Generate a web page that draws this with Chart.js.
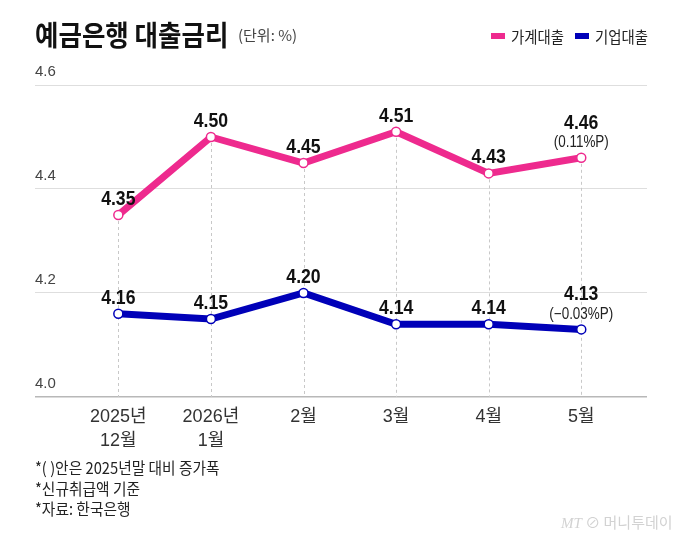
<!DOCTYPE html>
<html>
<head>
<meta charset="utf-8">
<script src="https://cdn.jsdelivr.net/npm/chart.js@4.4.1/dist/chart.umd.min.js"></script>
<style>
  html, body { margin: 0; padding: 0; background: #fff; }
  #wrap { position: relative; width: 680px; height: 535px; overflow: hidden; font-family: 'Noto Sans CJK KR', sans-serif; }
  canvas { position: absolute; left: 0; top: 0; }
  .abs { position: absolute; white-space: nowrap; transform-origin: left center; }
  #title { left: 35px; top: 19px; font-size: 28px; line-height: 30px; font-weight: 700; color: #111; transform: scaleX(0.91); }
  #unit { left: 238px; top: 25px; font-size: 15px; line-height: 20px; color: #444; }
  .leg { top: 26px; font-size: 16px; line-height: 20px; color: #222; transform: scaleX(0.9); }
  .sw { position: absolute; width: 14px; height: 6px; top: 33px; }
  .note { left: 35px; font-size: 16px; line-height: 20px; color: #222; transform: scaleX(0.92); }
  #wm { left: 561px; top: 512px; font-size: 15px; line-height: 20px; color: #d2d2d2; }
</style>
</head>
<body>
<div id="wrap">
  <canvas id="c" width="680" height="535"></canvas>
  <div class="abs" id="title">예금은행 대출금리</div>
  <div class="abs" id="unit">(단위: %)</div>
  <div class="sw" style="left:491px;background:#ee2a8e;"></div>
  <div class="abs leg" style="left:511px;">가계대출</div>
  <div class="sw" style="left:575px;background:#0000b8;"></div>
  <div class="abs leg" style="left:595px;">기업대출</div>
  <div class="abs note" style="top:457px;">*( )안은 2025년말 대비 증가폭</div>
  <div class="abs note" style="top:478px;">*신규취급액 기준</div>
  <div class="abs note" style="top:498px;">*자료: 한국은행</div>
  <div class="abs" id="wm"><i style="font-family:'Liberation Serif';">MT</i> ⊘ 머니투데이</div>
</div>
<script>
const categories = [['2025년', '12월'], ['2026년', '1월'], '2월', '3월', '4월', '5월'];
const householdLoans = [4.35, 4.50, 4.45, 4.51, 4.43, 4.46];
const corporateLoans = [4.16, 4.15, 4.20, 4.14, 4.14, 4.13];
const lastChange = ['(0.11%P)', '(\u22120.03%P)'];
const yTicks = [4.0, 4.2, 4.4, 4.6];

const PINK = '#ee2a8e';
const BLUE = '#0000b8';
const SANS = "'Liberation Sans', Arial, 'Noto Sans CJK KR', sans-serif";

const toPoints = arr => arr.map((v, i) => ({ x: i, y: v }));

const dropLines = {
  id: 'dropLines',
  beforeDatasetsDraw(chart) {
    const { ctx, scales: { x, y }, chartArea } = chart;
    ctx.save();
    ctx.strokeStyle = '#c8c8c8';
    ctx.lineWidth = 1;
    ctx.setLineDash([3, 3]);
    householdLoans.forEach((v, i) => {
      const px = Math.round(x.getPixelForValue(i)) + 0.5;
      const top = y.getPixelForValue(Math.max(v, corporateLoans[i]));
      ctx.beginPath();
      ctx.moveTo(px, top);
      ctx.lineTo(px, chartArea.bottom);
      ctx.stroke();
    });
    ctx.restore();
  }
};

function narrowText(ctx, text, x, y, sx) {
  ctx.save();
  ctx.translate(x, y);
  ctx.scale(sx, 1);
  ctx.fillText(text, 0, 0);
  ctx.restore();
}

const valueLabels = {
  id: 'valueLabels',
  afterDatasetsDraw(chart) {
    const { ctx } = chart;
    ctx.save();
    ctx.textAlign = 'center';
    ctx.textBaseline = 'middle';
    chart.data.datasets.forEach((ds, di) => {
      const meta = chart.getDatasetMeta(di);
      meta.data.forEach((pt, i) => {
        const last = i === meta.data.length - 1;
        ctx.fillStyle = '#111';
        ctx.font = 'bold 21px ' + SANS;
        narrowText(ctx, ds.data[i].y.toFixed(2), pt.x, pt.y - (last ? 35 : 16), 0.84);
        if (last) {
          ctx.font = '16px ' + SANS;
          ctx.fillStyle = '#222';
          narrowText(ctx, lastChange[di], pt.x, pt.y - 15, 0.84);
        }
      });
    });
    ctx.restore();
  }
};

new Chart(document.getElementById('c'), {
  type: 'line',
  data: {
    datasets: [
      { label: '가계대출', data: toPoints(householdLoans), borderColor: PINK, backgroundColor: '#fff',
        borderWidth: 7, pointRadius: 4.5, pointBorderWidth: 1.5, pointBorderColor: PINK, pointBackgroundColor: '#fff', tension: 0, clip: false },
      { label: '기업대출', data: toPoints(corporateLoans), borderColor: BLUE, backgroundColor: '#fff',
        borderWidth: 7, pointRadius: 4.5, pointBorderWidth: 1.5, pointBorderColor: BLUE, pointBackgroundColor: '#fff', tension: 0, clip: false }
    ]
  },
  options: {
    responsive: false,
    animation: false,
    layout: { padding: { left: 35, right: 33, top: 85, bottom: 0 } },
    plugins: { legend: { display: false }, tooltip: { enabled: false } },
    scales: {
      x: {
        type: 'linear',
        min: -0.9,
        max: 5.71,
        afterBuildTicks: s => { s.ticks = categories.map((c, i) => ({ value: i })); },
        afterFit: s => { s.height = 138; },
        grid: { display: false, drawTicks: false },
        border: { display: false },
        ticks: {
          padding: 9,
          maxRotation: 0,
          autoSkip: false,
          color: '#333',
          font: { family: SANS, size: 18, lineHeight: 1.28 },
          callback: v => categories[v]
        }
      },
      y: {
        min: 4.0,
        max: 4.6,
        afterBuildTicks: s => { s.ticks = yTicks.map(v => ({ value: v })); },
        afterFit: s => { s.width = 0; },
        grid: {
          drawTicks: false,
          color: c => (c.tick && c.tick.value === 4.0) ? '#b8b8b8' : '#dedede',
          lineWidth: c => (c.tick && c.tick.value === 4.0) ? 1.5 : 1
        },
        border: { display: false },
        ticks: {
          mirror: true,
          padding: 0,
          labelOffset: -13,
          color: '#444',
          font: { family: SANS, size: 15 },
          callback: v => v.toFixed(1)
        }
      }
    }
  },
  plugins: [dropLines, valueLabels]
});
</script>
</body>
</html>
